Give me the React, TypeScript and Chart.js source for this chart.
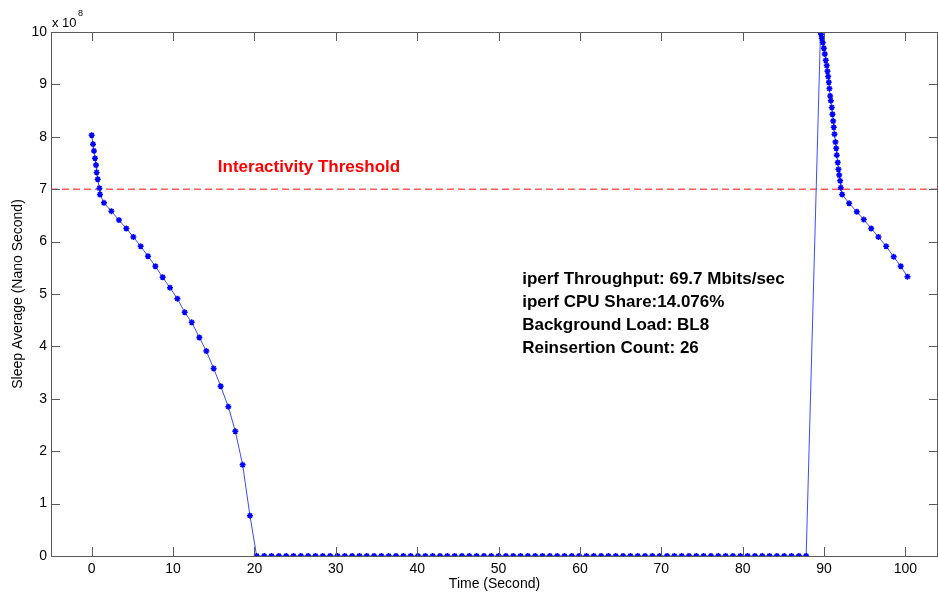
import React, { useEffect, useRef } from "react";
import { Chart, registerables } from "chart.js";

Chart.register(...registerables);

// Sleep average (x 10^8 ns) over time (s)
const decayTimes = [0, 0.16, 0.28, 0.41, 0.53, 0.61, 0.74, 0.95, 1.02, 1.51, 2.42, 3.35, 4.26, 5.12, 6.02, 6.92, 7.83, 8.72, 9.62, 10.53, 11.43, 12.29, 13.23, 14.09, 14.99, 15.85, 16.79, 17.65, 18.55, 19.45];
const decayValues = [8.03, 7.86, 7.73, 7.59, 7.46, 7.32, 7.19, 7.02, 6.9, 6.74, 6.58, 6.41, 6.25, 6.09, 5.91, 5.72, 5.53, 5.32, 5.12, 4.91, 4.65, 4.46, 4.17, 3.91, 3.58, 3.24, 2.85, 2.38, 1.74, 0.77];

const idleTimes = [20.27, 21.2, 22.1, 23.0, 23.9, 24.8, 25.7, 26.6, 27.5, 28.4, 29.3, 30.2, 31.1, 32.0, 32.9, 33.8, 34.7, 35.6, 36.5, 37.4, 38.3, 39.2, 40.1, 41.0, 41.9, 42.8, 43.7, 44.6, 45.5, 46.4, 47.3, 48.2, 49.1, 50.0, 50.9, 51.8, 52.7, 53.6, 54.5, 55.4, 56.3, 57.2, 58.1, 59.0, 59.9, 60.8, 61.7, 62.6, 63.5, 64.4, 65.3, 66.2, 67.1, 68.0, 68.9, 69.8, 70.7, 71.6, 72.5, 73.4, 74.3, 75.2, 76.1, 77.0, 77.9, 78.8, 79.7, 80.6, 81.5, 82.4, 83.3, 84.2, 85.1, 86.0, 86.9, 87.8];
const idleValues = [0, 0, 0, 0, 0, 0, 0, 0, 0, 0, 0, 0, 0, 0, 0, 0, 0, 0, 0, 0, 0, 0, 0, 0, 0, 0, 0, 0, 0, 0, 0, 0, 0, 0, 0, 0, 0, 0, 0, 0, 0, 0, 0, 0, 0, 0, 0, 0, 0, 0, 0, 0, 0, 0, 0, 0, 0, 0, 0, 0, 0, 0, 0, 0, 0, 0, 0, 0, 0, 0, 0, 0, 0, 0, 0, 0];

const burstTimes = [89.56, 89.64, 89.72, 89.84, 89.97, 90.09, 90.21, 90.33, 90.42, 90.5, 90.58, 90.66, 90.75, 90.83, 90.95, 91.03, 91.12, 91.19, 91.28, 91.4, 91.49, 91.56, 91.68, 91.77, 91.86, 91.98, 92.05, 92.22, 93.08, 94.02, 94.88, 95.79, 96.68, 97.63, 98.56, 99.42, 100.25];
const burstValues = [10.0, 9.95, 9.88, 9.8, 9.69, 9.58, 9.46, 9.36, 9.25, 9.15, 9.04, 8.92, 8.78, 8.69, 8.56, 8.43, 8.3, 8.18, 8.05, 7.9, 7.78, 7.65, 7.51, 7.38, 7.27, 7.16, 7.03, 6.9, 6.73, 6.57, 6.42, 6.25, 6.09, 5.91, 5.71, 5.53, 5.33];

const thresholdTimes = [-5, 104];
const thresholdValues = [7, 7];

const xTicks = [0, 10, 20, 30, 40, 50, 60, 70, 80, 90, 100];
const yTicks = [0, 1, 2, 3, 4, 5, 6, 7, 8, 9, 10];

const infoLines = [
  "iperf Throughput: 69.7 Mbits/sec",
  "iperf CPU Share:14.076%",
  "Background Load: BL8",
  "Reinsertion Count: 26",
];
const thresholdLabel = "Interactivity Threshold";

const FONT = "'Liberation Sans', Arial, Helvetica, sans-serif";

const framePlugin = {
  id: "frame",
  afterDraw(chart: any) {
    const { ctx, chartArea } = chart;
    const xs = chart.scales.x;
    const ys = chart.scales.y;
    const { left, right, top, bottom } = chartArea;
    ctx.save();
    ctx.strokeStyle = "#5a5a5a";
    ctx.lineWidth = 1;
    ctx.beginPath();
    ctx.rect(left + 0.5, top + 0.5, right - left - 1, bottom - top);
    ctx.stroke();
    const tl = 9;
    ctx.beginPath();
    xTicks.forEach((v) => {
      const px = Math.round(xs.getPixelForValue(v)) + 0.5;
      ctx.moveTo(px, bottom);
      ctx.lineTo(px, bottom - tl);
      ctx.moveTo(px, top);
      ctx.lineTo(px, top + tl);
    });
    yTicks.forEach((v) => {
      const py = Math.round(ys.getPixelForValue(v)) + 0.5;
      ctx.moveTo(left, py);
      ctx.lineTo(left + tl, py);
      ctx.moveTo(right, py);
      ctx.lineTo(right - tl, py);
    });
    ctx.stroke();

    // exponent label
    ctx.fillStyle = "#000";
    ctx.textBaseline = "alphabetic";
    ctx.textAlign = "left";
    ctx.font = `13px ${FONT}`;
    ctx.fillText("x 10", left + 1, top - 5);
    ctx.font = `9px ${FONT}`;
    ctx.fillText("8", left + 27, top - 16);

    // threshold label
    ctx.fillStyle = "#ff0000";
    ctx.font = `bold 17px ${FONT}`;
    ctx.fillText(thresholdLabel, xs.getPixelForValue(15.5), ys.getPixelForValue(7.32));

    // info block
    ctx.fillStyle = "#000";
    const x0 = xs.getPixelForValue(52.9);
    infoLines.forEach((line, i) => {
      ctx.fillText(line, x0, ys.getPixelForValue(5.2) + i * 23);
    });
    ctx.restore();
  },
};

export default function App() {
  const ref = useRef<HTMLCanvasElement | null>(null);
  useEffect(() => {
    if (!ref.current) return;
    const times = [...decayTimes, ...idleTimes, ...burstTimes];
    const values = [...decayValues, ...idleValues, ...burstValues];
    const series = times.map((t, i) => ({ x: t, y: values[i] }));
    const threshold = thresholdTimes.map((t, i) => ({ x: t, y: thresholdValues[i] }));
    const chart = new Chart(ref.current, {
      type: "scatter",
      data: {
        datasets: [
          {
            data: series,
            showLine: true,
            borderColor: "#3a4cff",
            borderWidth: 1,
            pointStyle: "star",
            pointRadius: 3,
            pointBorderColor: "#0000ff",
            pointBackgroundColor: "#0000ff",
            pointBorderWidth: 1.5,
          },
          {
            data: threshold,
            showLine: true,
            borderColor: "#ff5a5a",
            borderWidth: 1.5,
            borderDash: [7, 4],
            pointRadius: 0,
          },
        ],
      },
      options: {
        responsive: false,
        animation: false,
        layout: { autoPadding: false, padding: { top: 32, right: 0, left: 0, bottom: 0 } },
        plugins: { legend: { display: false }, tooltip: { enabled: false } },
        scales: {
          x: {
            type: "linear",
            min: -5,
            max: 104,
            grid: { display: false, drawTicks: false },
            border: { display: false },
            afterBuildTicks: (s: any) => {
              s.ticks = xTicks.map((v) => ({ value: v }));
            },
            afterFit: (s: any) => {
              s.height = 41;
              s.paddingLeft = 0;
              s.paddingRight = 0;
            },
            ticks: { color: "#000", padding: 5, font: { family: FONT, size: 14 }, maxRotation: 0 },
            title: {
              display: true,
              text: "Time (Second)",
              color: "#000",
              font: { family: FONT, size: 14 },
              padding: { top: 0, bottom: 4 },
            },
          },
          y: {
            type: "linear",
            min: 0,
            max: 10,
            grid: { display: false, drawTicks: false },
            border: { display: false },
            afterBuildTicks: (s: any) => {
              s.ticks = yTicks.map((v) => ({ value: v }));
            },
            afterFit: (s: any) => {
              s.width = 51;
              s.paddingTop = 0;
              s.paddingBottom = 0;
            },
            ticks: { color: "#000", padding: 4, font: { family: FONT, size: 14 } },
            title: {
              display: true,
              text: "Sleep Average (Nano Second)",
              color: "#000",
              font: { family: FONT, size: 14 },
              padding: { top: 10, bottom: 0 },
            },
          },
        },
      },
      plugins: [framePlugin],
    });
    return () => chart.destroy();
  }, []);
  return (
    <div style={{ position: "absolute", left: 0, top: 0, width: 938, height: 597, background: "#fff" }}>
      <canvas ref={ref} width={938} height={597} style={{ display: "block" }} />
    </div>
  );
}
